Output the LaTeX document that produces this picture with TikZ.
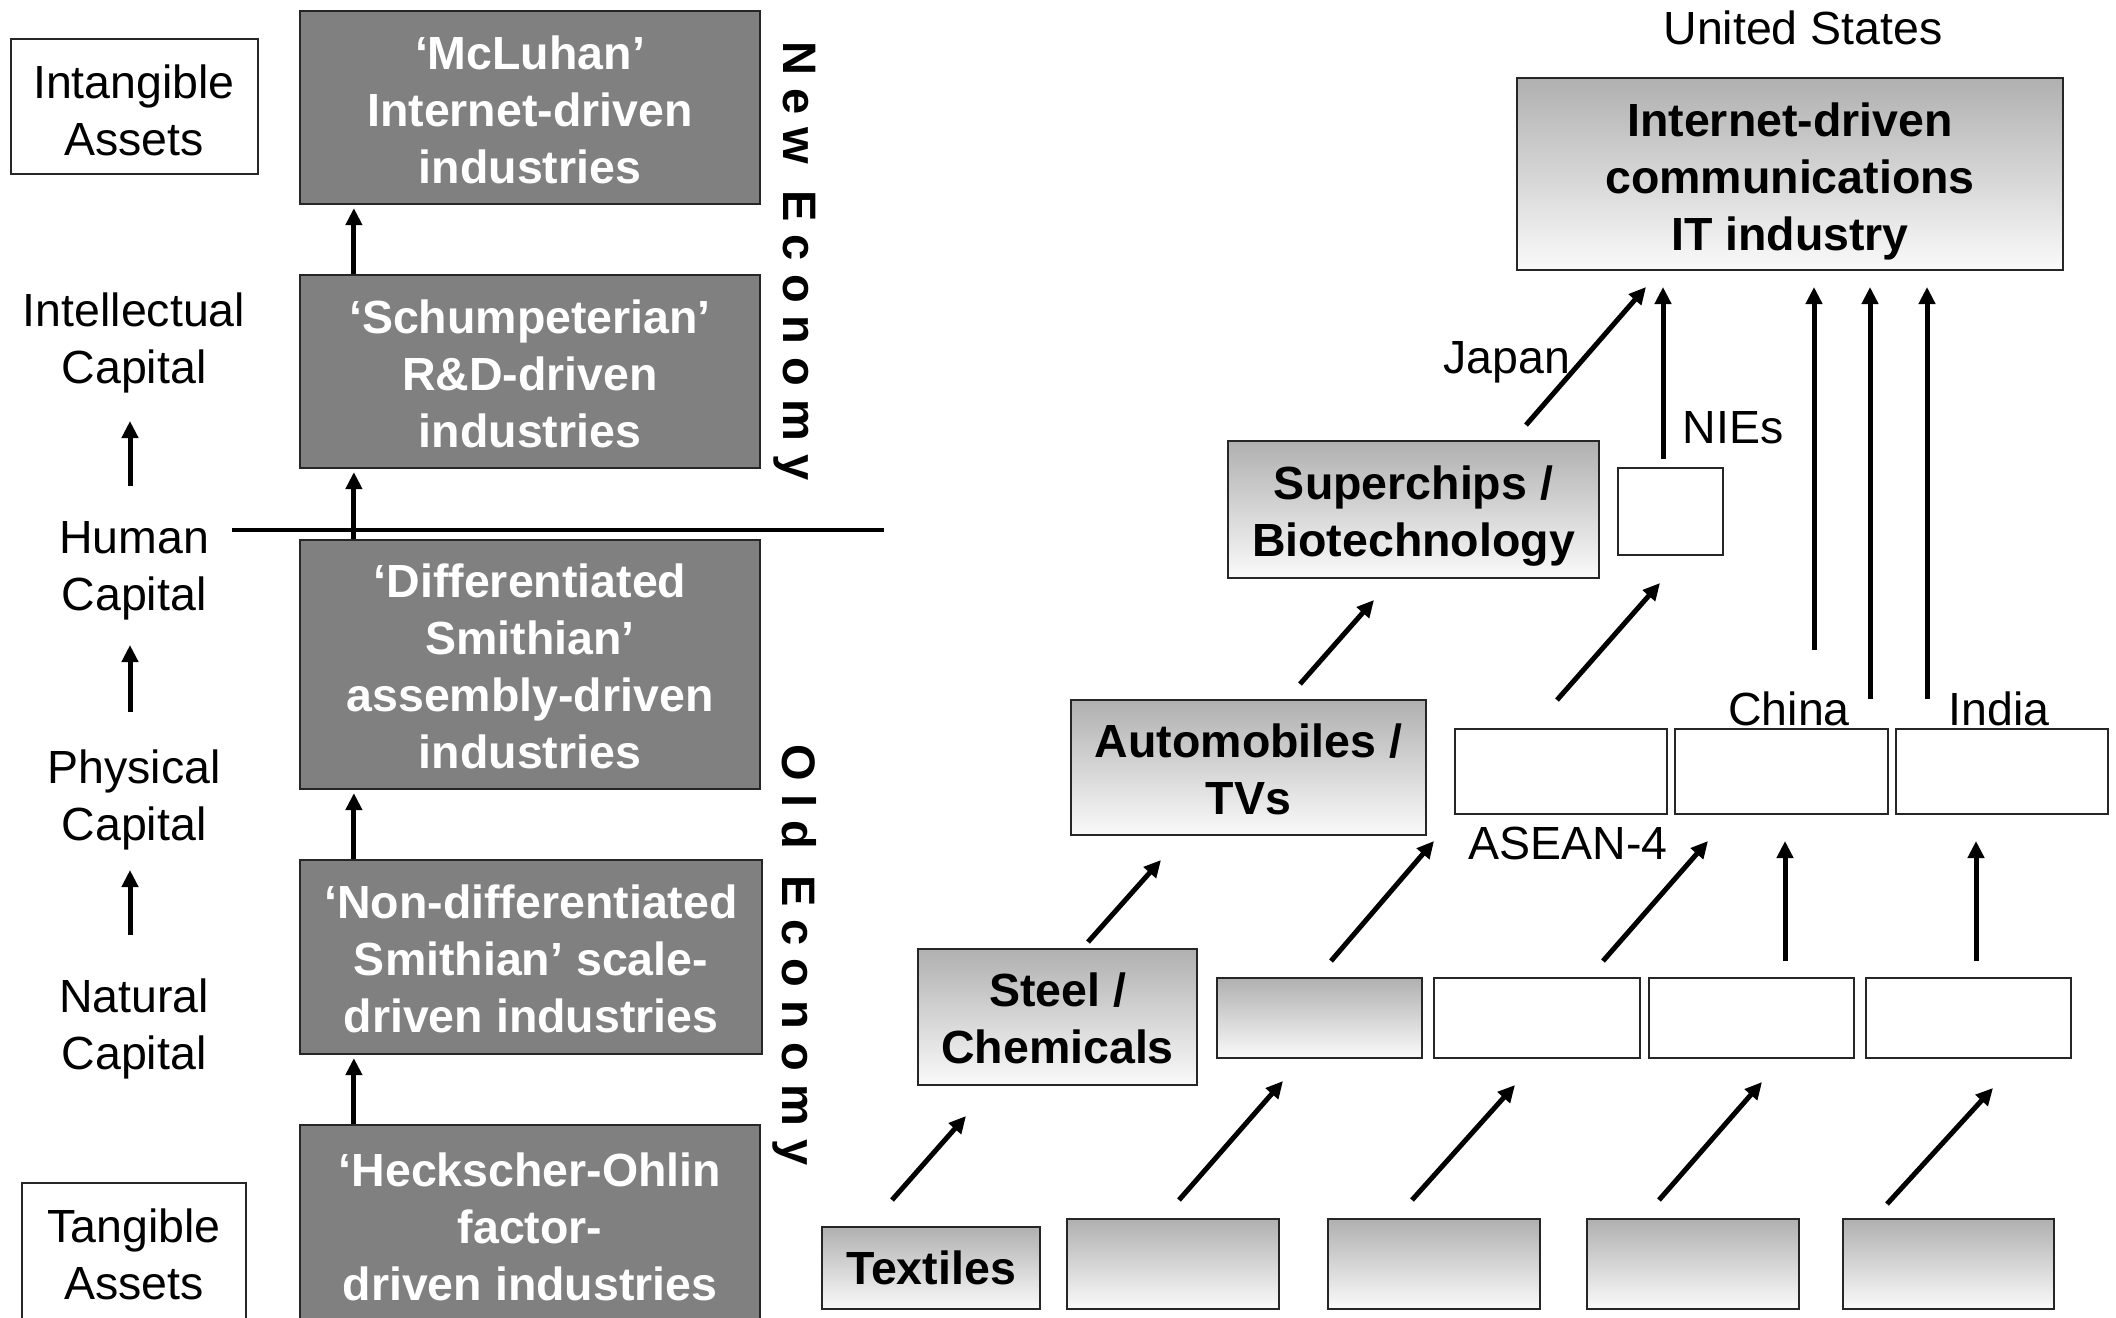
\documentclass[tikz,border=0pt]{standalone}
\usepackage{fontspec}
\setmainfont{Liberation Sans}
\usetikzlibrary{arrows.meta,calc}
\definecolor{boxgray}{HTML}{808080}
\definecolor{gradtop}{HTML}{B0B0B0}
\definecolor{gradbot}{HTML}{FAFAFA}
\newcommand{\bigtxt}{\fontsize{46.5}{57}\selectfont}
\begin{document}
\begin{tikzpicture}[x=1pt,y=-1pt,
  lbl/.style={font=\bigtxt, align=center, inner sep=0pt},
  darkbox/.style={draw=black!85, line width=2.2pt, fill=boxgray, inner sep=0pt},
  darktxt/.style={text=white, font=\bigtxt\bfseries, align=center, inner sep=0pt},
  gradbox/.style={draw=black!85, line width=2.2pt, top color=gradtop, bottom color=gradbot, inner sep=0pt},
  gradtxt/.style={font=\bigtxt\bfseries, align=center, inner sep=0pt},
  whitebox/.style={draw=black!85, line width=2.2pt, fill=white, inner sep=0pt},
  outbox/.style={draw=black!85, line width=2pt, fill=white, inner sep=0pt},
  arr/.style={-{Triangle[length=17pt,width=16pt]}, line width=5pt},
  vtxt/.style={font=\fontsize{47}{52}\selectfont\bfseries\addfontfeature{LetterSpace=28}, rotate=-90, inner sep=0pt}
]
\clip (0,0) rectangle (2116,1317);
\fill[white] (0,0) rectangle (2116,1317);

% ---------- left column ----------
\node[outbox, minimum width=247pt, minimum height=135pt] (intbox) at (134.5,106.5) {};
\node[lbl] (intang) at (134,110) {Intangible\\Assets};
\node[outbox, minimum width=224pt, minimum height=142pt] (tanbox) at (134,1254) {};
\node[lbl] (tang) at (134,1254) {Tangible\\Assets};

\node[lbl] (intel) at (134,343) {Intellectual\\Capital};
\node[lbl] (human) at (134,571) {Human\\Capital};
\node[lbl] (phys) at (134,800) {Physical\\Capital};
\node[lbl] (natur) at (134,1029) {Natural\\Capital};

\coordinate (la1s) at (130,486); \coordinate (la1e) at (130,421);
\coordinate (la2s) at (130,712); \coordinate (la2e) at (130,645);
\coordinate (la3s) at (130,935); \coordinate (la3e) at (130,870);
\draw[arr] (la1s) -- (la1e);
\draw[arr] (la2s) -- (la2e);
\draw[arr] (la3s) -- (la3e);

\node[darkbox, minimum width=460pt, minimum height=193pt] (mcl) at (530,107.5) {};
\node[darktxt] (mcltxt) at (530,109.5) {‘McLuhan’\\Internet-driven\\industries};
\node[darkbox, minimum width=460pt, minimum height=193pt] (sch) at (530,371.5) {};
\node[darktxt] (schtxt) at (530,374) {‘Schumpeterian’\\R\&D-driven\\industries};
\node[darkbox, minimum width=460pt, minimum height=249pt] (dif) at (530,664.5) {};
\node[darktxt] (diftxt) at (530,666.5) {‘Differentiated\\Smithian’\\assembly-driven\\industries};
\node[darkbox, minimum width=462pt, minimum height=194pt] (nond) at (531,957) {};
\node[darktxt] (nondtxt) at (531,959) {‘Non-differentiated\\Smithian’ scale-\\driven industries};
\node[darkbox, minimum width=460pt, minimum height=206pt] (ho) at (530,1228) {};
\node[darktxt] (hotxt) at (530,1227) {‘Heckscher-Ohlin\\factor-\\driven industries};

\draw[arr] ($(sch.north west)+(55,0)$) -- ($(mcl.south west)+(55,3)$);
\draw[arr] ($(dif.north west)+(55,0)$) -- ($(sch.south west)+(55,3)$);
\draw[arr] ($(nond.north west)+(55,0)$) -- ($(dif.south west)+(55,3)$);
\draw[arr] ($(ho.north west)+(55,0)$) -- ($(nond.south west)+(55,3)$);

\coordinate (hl1) at (232,530); \coordinate (hl2) at (884,530);
\draw[line width=4.5pt] (hl1) -- (hl2);

\node[vtxt] (neweco) at (795,261) {New Economy};
\node[vtxt] (oldeco) at (795,955) {Old Economy};

% ---------- right part ----------
\node[lbl, anchor=base] (usa) at (1803,44) {United States};
\node[gradbox, minimum width=546pt, minimum height=192pt] (us) at (1790,174) {};
\node[gradtxt] (ustxt) at (1790,181) {Internet-driven\\communications\\IT industry};

\node[gradbox, minimum width=371pt, minimum height=137pt] (sup) at (1413.5,509.5) {};
\node[gradtxt] (suptxt) at (1413.5,516.5) {Superchips /\\Biotechnology};
\node[whitebox, minimum width=105pt, minimum height=87pt] (nies) at (1670.5,511.5) {};

\node[gradbox, minimum width=355pt, minimum height=135pt] (auto) at (1248.5,767.5) {};
\node[gradtxt] (autotxt) at (1248.5,769) {Automobiles /\\TVs};
\node[whitebox, minimum width=212pt, minimum height=85pt] (asean) at (1561,771.5) {};
\node[whitebox, minimum width=213pt, minimum height=85pt] (china) at (1781.5,771.5) {};
\node[whitebox, minimum width=212pt, minimum height=85pt] (india) at (2002,771.5) {};

\node[gradbox, minimum width=279pt, minimum height=136pt] (steel) at (1057.5,1017) {};
\node[gradtxt] (steeltxt) at (1057.5,1018.5) {Steel /\\Chemicals};
\node[gradbox, minimum width=205pt, minimum height=80pt] (r2a) at (1319.5,1018) {};
\node[whitebox, minimum width=206pt, minimum height=80pt] (r2b) at (1537,1018) {};
\node[whitebox, minimum width=205pt, minimum height=80pt] (r2c) at (1751.5,1018) {};
\node[whitebox, minimum width=205pt, minimum height=80pt] (r2d) at (1968.5,1018) {};

\node[gradbox, minimum width=218pt, minimum height=82pt] (tex) at (931,1268) {};
\node[gradtxt] (textxt) at (931,1268) {Textiles};
\node[gradbox, minimum width=212pt, minimum height=90pt] (r1a) at (1173,1264) {};
\node[gradbox, minimum width=212pt, minimum height=90pt] (r1b) at (1434,1264) {};
\node[gradbox, minimum width=212pt, minimum height=90pt] (r1c) at (1693,1264) {};
\node[gradbox, minimum width=211pt, minimum height=90pt] (r1d) at (1948.5,1264) {};

% labels
\node[lbl, anchor=base] (japan) at (1507,373) {Japan};
\node[lbl, anchor=base] (niesl) at (1733,443) {NIEs};
\node[lbl, anchor=base] (chinal) at (1789,725) {China};
\node[lbl, anchor=base] (indial) at (1999,725) {India};
\node[lbl, anchor=base] (aseanl) at (1568,859) {ASEAN-4};

% arrow end points
\coordinate (a1s) at (892,1200);  \coordinate (a1e) at (966,1116);
\coordinate (a2s) at (1179,1200); \coordinate (a2e) at (1283,1081);
\coordinate (a3s) at (1412,1200); \coordinate (a3e) at (1515,1085);
\coordinate (a4s) at (1659,1200); \coordinate (a4e) at (1762,1082);
\coordinate (a5s) at (1887,1204); \coordinate (a5e) at (1993,1088);
\coordinate (b1s) at (1088,942);  \coordinate (b1e) at (1161,860);
\coordinate (b2s) at (1331,961);  \coordinate (b2e) at (1434,841);
\coordinate (b3s) at (1603,961);  \coordinate (b3e) at (1708,841);
\coordinate (b4s) at (1785,961);  \coordinate (b4e) at (1785,841);
\coordinate (b5s) at (1976,961);  \coordinate (b5e) at (1976,841);
\coordinate (c1s) at (1300,684);  \coordinate (c1e) at (1374,600);
\coordinate (c2s) at (1557,700);  \coordinate (c2e) at (1660,583);
\coordinate (d1s) at (1526,425);  \coordinate (d1e) at (1646,287);
\coordinate (d2s) at (1663,459);  \coordinate (d2e) at (1663,287);
\coordinate (d3s) at (1814,650);  \coordinate (d3e) at (1814,287);
\coordinate (d4s) at (1870,699);  \coordinate (d4e) at (1870,287);
\coordinate (d5s) at (1927,699);  \coordinate (d5e) at (1927,287);

\foreach \p in {a1,a2,a3,a4,a5,b1,b2,b3,b4,b5,c1,c2,d1,d2,d3,d4,d5}
  \draw[arr] (\p s) -- (\p e);
\end{tikzpicture}
\end{document}
